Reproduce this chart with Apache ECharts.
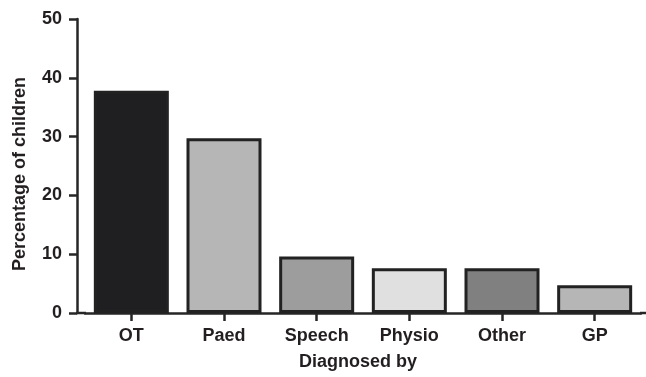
<!DOCTYPE html>
<html>
<head>
<meta charset="utf-8">
<script src="https://cdn.jsdelivr.net/npm/echarts@6/dist/echarts.min.js"></script>
<style>
html,body{margin:0;padding:0;background:#fff;}
#chart{width:646px;height:377px;}
</style>
</head>
<body>
<div id="chart"></div>
<script>
var categories = ['OT', 'Paed', 'Speech', 'Physio', 'Other', 'GP'];
var values = [37.8, 29.7, 9.6, 7.6, 7.6, 4.7];
var barColors = ['#1f1f21', '#b6b6b6', '#9d9d9d', '#e0e0e0', '#7f807f', '#b6b6b6'];
var yTicks = [0, 10, 20, 30, 40, 50];

var chart = echarts.init(document.getElementById('chart'));
var font = 'Liberation Sans, Arial, Helvetica, sans-serif';
var txtColor = '#231f20';
var lineColor = '#262626';
chart.setOption({
  animation: false,
  grid: { left: 85, right: 5, top: 19, bottom: 64 },
  xAxis: {
    type: 'category',
    data: categories,
    name: 'Diagnosed by',
    nameLocation: 'middle',
    nameGap: 40,
    nameTextStyle: { fontFamily: font, fontWeight: 'bold', fontSize: 18, color: txtColor, padding: [0, 10, 0, 0] },
    axisLine: { show: true, lineStyle: { color: lineColor, width: 2.5 } },
    axisTick: { show: true, inside: false, alignWithLabel: true, length: 8, lineStyle: { color: lineColor, width: 2.5 } },
    axisLabel: { fontFamily: font, fontWeight: 'bold', fontSize: 18, color: txtColor, margin: 14 }
  },
  yAxis: {
    type: 'value',
    min: 0, max: 50, interval: 10,
    offset: 8,
    name: 'Percentage of children',
    nameLocation: 'middle',
    nameGap: 48,
    nameTextStyle: { fontFamily: font, fontWeight: 'bold', fontSize: 18, color: txtColor, padding: [0, 16, 0, 0] },
    axisLine: { show: true, lineStyle: { color: lineColor, width: 2.5 } },
    axisTick: { show: true, inside: false, length: 8, lineStyle: { color: lineColor, width: 2.5 } },
    axisLabel: { fontFamily: font, fontWeight: 'bold', fontSize: 18, color: txtColor, margin: 15,
      formatter: function (v) { return yTicks.indexOf(v) >= 0 ? String(v) : ''; } },
    splitLine: { show: false }
  },
  series: [{
    type: 'bar',
    barWidth: 75,
    data: values.map(function (v, i) {
      return { value: v, itemStyle: { color: barColors[i] } };
    }),
    itemStyle: { borderColor: '#222', borderWidth: 3 }
  }]
});
// baseline continuation: from the offset y axis to the grid, and to the right edge
var rect = chart.getModel().getComponent('grid', 0).coordinateSystem.getRect();
var by = rect.y + rect.height;
chart.setOption({
  graphic: [{
    type: 'line', z: 10,
    shape: { x1: rect.x - 9, y1: by, x2: rect.x + 1, y2: by },
    style: { stroke: lineColor, lineWidth: 2.5 }
  }, {
    type: 'line', z: 10,
    shape: { x1: rect.x + rect.width - 1, y1: by, x2: 646, y2: by },
    style: { stroke: lineColor, lineWidth: 2.5 }
  }]
});
</script>
</body>
</html>
